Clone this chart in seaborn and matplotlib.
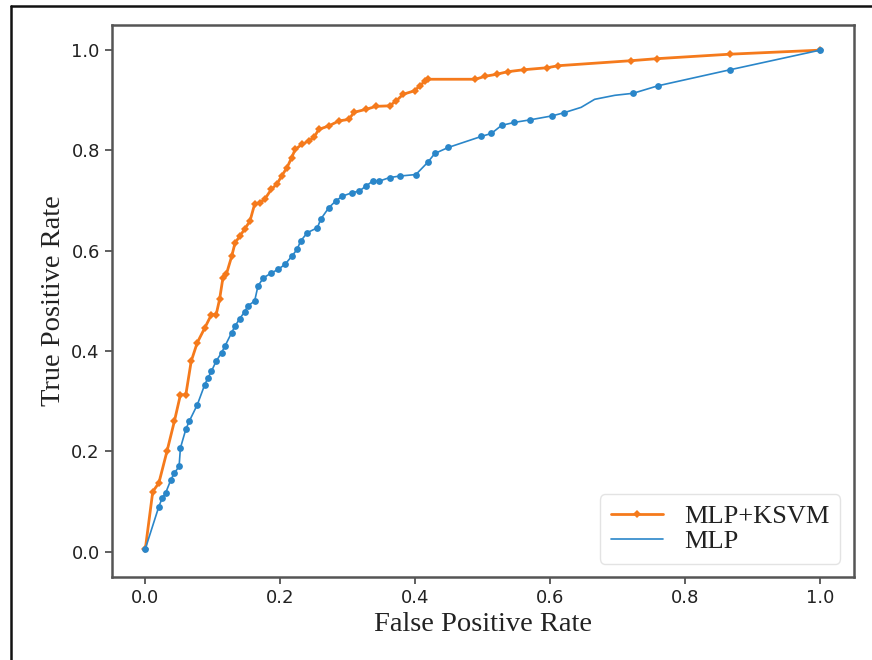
import numpy as np
import pandas as pd
import matplotlib
matplotlib.use("Agg")
import matplotlib.pyplot as plt
from matplotlib.lines import Line2D
import seaborn as sns

# ROC points
fpr_ksvm = [0.0, 0.011, 0.020, 0.032, 0.043, 0.052, 0.060, 0.068, 0.077, 0.088, 0.098, 0.105,
            0.110, 0.115, 0.120, 0.128, 0.133, 0.140, 0.147, 0.155, 0.162, 0.170, 0.177, 0.187,
            0.195, 0.202, 0.210, 0.217, 0.222, 0.232, 0.242, 0.250, 0.257, 0.272, 0.287, 0.302,
            0.309, 0.327, 0.342, 0.362, 0.372, 0.382, 0.399, 0.407, 0.415, 0.419, 0.489, 0.504,
            0.521, 0.537, 0.561, 0.596, 0.612, 0.720, 0.758, 0.867, 1.0]
tpr_ksvm = [0.006, 0.120, 0.137, 0.200, 0.260, 0.313, 0.313, 0.380, 0.417, 0.446, 0.473, 0.473,
            0.503, 0.546, 0.553, 0.589, 0.616, 0.629, 0.643, 0.659, 0.693, 0.696, 0.703, 0.723,
            0.733, 0.749, 0.766, 0.786, 0.802, 0.812, 0.819, 0.826, 0.842, 0.849, 0.859, 0.862,
            0.876, 0.882, 0.888, 0.889, 0.899, 0.912, 0.919, 0.929, 0.939, 0.942, 0.942, 0.948,
            0.952, 0.957, 0.961, 0.965, 0.969, 0.979, 0.983, 0.992, 1.0]

fpr_mlp = [0.0, 0.020, 0.025, 0.030, 0.038, 0.043, 0.050, 0.052, 0.060, 0.065, 0.077, 0.088,
           0.093, 0.098, 0.105, 0.113, 0.118, 0.128, 0.133, 0.140, 0.147, 0.152, 0.162, 0.167,
           0.175, 0.187, 0.197, 0.207, 0.217, 0.225, 0.230, 0.240, 0.255, 0.260, 0.272, 0.282,
           0.292, 0.307, 0.317, 0.327, 0.337, 0.347, 0.362, 0.377, 0.401, 0.419, 0.429, 0.449,
           0.498, 0.513, 0.528, 0.547, 0.570, 0.603, 0.620, 0.646, 0.666, 0.696, 0.723, 0.760,
           0.867, 1.0]
tpr_mlp = [0.006, 0.090, 0.107, 0.117, 0.144, 0.157, 0.170, 0.207, 0.244, 0.260, 0.293, 0.333,
           0.347, 0.360, 0.380, 0.397, 0.410, 0.437, 0.450, 0.465, 0.478, 0.490, 0.500, 0.530,
           0.546, 0.556, 0.563, 0.573, 0.589, 0.603, 0.619, 0.636, 0.646, 0.663, 0.686, 0.699,
           0.709, 0.716, 0.719, 0.729, 0.739, 0.739, 0.746, 0.749, 0.752, 0.777, 0.794, 0.806,
           0.828, 0.834, 0.850, 0.856, 0.861, 0.869, 0.875, 0.886, 0.902, 0.910, 0.914, 0.929,
           0.961, 1.0]
mlp_unmarked = [55, 56, 57]  # points on the blue line drawn without a dot

labels = ["MLP+KSVM", "MLP"]
x_label = "False Positive Rate"
y_label = "True Positive Rate"

sns.set_style("ticks")
plt.rcParams['font.family'] = ['DejaVu Sans']

orange = "#f57a1c"
blue = "#2a86c9"

fig, ax = plt.subplots(figsize=(8.72, 6.6), dpi=100)
fig.subplots_adjust(left=0.128, right=0.979, top=0.962, bottom=0.126)

df_k = pd.DataFrame({"fpr": fpr_ksvm, "tpr": tpr_ksvm})
df_m = pd.DataFrame({"fpr": fpr_mlp, "tpr": tpr_mlp})
df_m_pts = df_m.drop(index=mlp_unmarked)

sns.lineplot(data=df_k, x="fpr", y="tpr", sort=False, estimator=None, ax=ax,
             color=orange, lw=2.0, marker="D", markersize=4.5, markeredgewidth=0,
             label=labels[0])
sns.lineplot(data=df_m, x="fpr", y="tpr", sort=False, estimator=None, ax=ax,
             color=blue, lw=1.2, label=labels[1])
sns.scatterplot(data=df_m_pts, x="fpr", y="tpr", ax=ax, color=blue, s=24,
                linewidth=0, legend=False, zorder=3)

ax.set_xlim(-0.05, 1.05)
ax.set_ylim(-0.05, 1.05)
ax.set_xticks(np.arange(0, 1.01, 0.2))
ax.set_yticks(np.arange(0, 1.01, 0.2))
ax.tick_params(labelsize=13, length=5, width=1.2, colors="#444444", labelcolor="#222222")
for s in ax.spines.values():
    s.set_color("#555555")
    s.set_linewidth(1.8)

ax.set_xlabel(x_label, family="Liberation Serif", fontsize=20.5, color="#222222")
ax.set_ylabel(y_label, family="Liberation Serif", fontsize=20.5, color="#222222")

leg = ax.legend(loc="lower right", prop={"family": "Liberation Serif", "size": 19},
                labelspacing=0.05, handlelength=2.0, borderpad=0.4, frameon=True)
leg.get_frame().set_edgecolor("#dddddd")
for t in leg.get_texts():
    t.set_color("#222222")

# outer border lines of the original picture
fig.add_artist(Line2D([0.0125, 0.0125], [0, 0.991], transform=fig.transFigure,
                      color="#111111", lw=1.8))
fig.add_artist(Line2D([0.0125, 1.0], [0.991, 0.991], transform=fig.transFigure,
                      color="#111111", lw=1.8))

fig.savefig("out.png", dpi=100)
